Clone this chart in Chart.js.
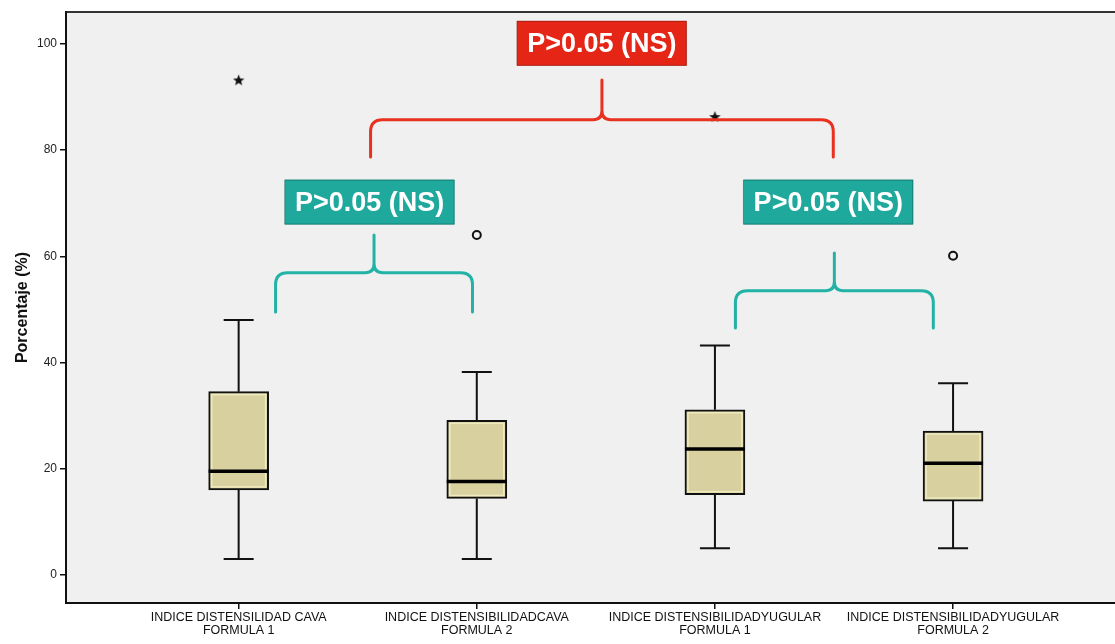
<!DOCTYPE html>
<html><head><meta charset="utf-8">
<script src="https://cdn.jsdelivr.net/npm/chart.js@4"></script>
<style>html,body{margin:0;padding:0;background:#fff;overflow:hidden}canvas{display:block}</style>
</head><body>
<canvas id="c" width="1115" height="644"></canvas>
<script>
// ---- data ----
const categories = [
  ["INDICE DISTENSILIDAD CAVA", "FORMULA 1"],
  ["INDICE DISTENSIBILIDADCAVA", "FORMULA 2"],
  ["INDICE DISTENSIBILIDADYUGULAR", "FORMULA 1"],
  ["INDICE DISTENSIBILIDADYUGULAR", "FORMULA 2"]
];
const whiskerLow  = [3, 3, 5, 5];
const q1          = [16, 14.4, 15.1, 13.9];
const median      = [19.5, 17.6, 23.7, 21.0];
const q3          = [34.5, 29.1, 31.1, 27.1];
const whiskerHigh = [48, 38.2, 43.2, 36.1];
const circleOutlierCat = [2, 4];
const circleOutlierVal = [64, 60.1];
const starOutlierCat = [1, 3];
const starOutlierVal = [93.2, 86.3];
const yTicks = [0, 20, 40, 60, 80, 100];
const yTitle = "Porcentaje (%)";
// comparison brackets (left cat, right cat, end value, bar value, peak value)
const compLabels = ["P>0.05 (NS)", "P>0.05 (NS)", "P>0.05 (NS)"];
const compLeft   = [1.155, 3.086, 1.554];
const compRight  = [1.982, 3.917, 3.497];
const compEnd    = [49.5, 46.5, 78.7];
const compBar    = [56.9, 53.5, 85.7];
const compPeak   = [64.0, 60.6, 93.2];
const compLabelX = [1.55, 3.476, 2.525];
const compLabelY = [70.2, 70.2, 100.1];
const compColors = ["#1fa89c", "#1fa89c", "#e52617"];
const compLine   = ["#22b3a6", "#22b3a6", "#e8321f"];

const FONT = "'Liberation Sans', Arial, sans-serif";

// star point image
const star = document.createElement('canvas');
star.width = 13; star.height = 13;
(function(){
  const c = star.getContext('2d');
  c.fillStyle = '#111';
  c.beginPath();
  for (let i = 0; i < 10; i++) {
    const r = i % 2 === 0 ? 6 : 2.6;
    const a = -Math.PI/2 + i * Math.PI/5;
    const px = 6.5 + r*Math.cos(a), py = 7 + r*Math.sin(a);
    i === 0 ? c.moveTo(px, py) : c.lineTo(px, py);
  }
  c.closePath(); c.fill();
})();

const bgPlugin = {
  id: 'bg',
  beforeDraw(chart) {
    const {ctx, chartArea: a} = chart;
    ctx.save();
    ctx.fillStyle = '#fff';
    ctx.fillRect(0, 0, chart.width, chart.height);
    ctx.fillStyle = '#f0f0f0';
    ctx.fillRect(a.left, a.top, a.right - a.left, a.bottom - a.top);
    ctx.strokeStyle = '#333';
    ctx.lineWidth = 2;
    ctx.beginPath(); ctx.moveTo(a.left, a.top); ctx.lineTo(a.right, a.top); ctx.stroke();
    ctx.restore();
  }
};

const whiskerPlugin = {
  id: 'whisk',
  beforeDatasetsDraw(chart) {
    const {ctx} = chart;
    const xs = chart.scales.x, ys = chart.scales.y;
    ctx.save();
    ctx.strokeStyle = '#111'; ctx.lineWidth = 2;
    for (let i = 0; i < categories.length; i++) {
      const x = xs.getPixelForValue(i + 1);
      const yl = ys.getPixelForValue(whiskerLow[i]), yh = ys.getPixelForValue(whiskerHigh[i]);
      const y1 = ys.getPixelForValue(q1[i]), y3 = ys.getPixelForValue(q3[i]);
      ctx.beginPath();
      ctx.moveTo(x, y3); ctx.lineTo(x, yh);
      ctx.moveTo(x - 15, yh); ctx.lineTo(x + 15, yh);
      ctx.moveTo(x, y1); ctx.lineTo(x, yl);
      ctx.moveTo(x - 15, yl); ctx.lineTo(x + 15, yl);
      ctx.stroke();
    }
    ctx.restore();
  },
  afterDatasetsDraw(chart) {
    const {ctx} = chart;
    const xs = chart.scales.x, ys = chart.scales.y;
    ctx.save();
    // light inner band of boxes
    ctx.strokeStyle = 'rgba(245,240,200,0.8)'; ctx.lineWidth = 1.5;
    for (let i = 0; i < categories.length; i++) {
      const x = xs.getPixelForValue(i + 1);
      const y1 = ys.getPixelForValue(q1[i]), y3 = ys.getPixelForValue(q3[i]);
      ctx.strokeRect(x - 27, y3 + 3, 54, y1 - y3 - 6);
    }
    ctx.strokeStyle = '#000'; ctx.lineWidth = 3.5;
    for (let i = 0; i < categories.length; i++) {
      const x = xs.getPixelForValue(i + 1);
      const ym = ys.getPixelForValue(median[i]);
      ctx.beginPath(); ctx.moveTo(x - 30, ym); ctx.lineTo(x + 30, ym); ctx.stroke();
    }
    // comparison braces
    for (let k = 0; k < compLabels.length; k++) {
      const L = xs.getPixelForValue(compLeft[k]), R = xs.getPixelForValue(compRight[k]);
      const C = (L + R) / 2;
      const yE = ys.getPixelForValue(compEnd[k]), yB = ys.getPixelForValue(compBar[k]), yP = ys.getPixelForValue(compPeak[k]);
      const r = 12, r2 = 9;
      ctx.strokeStyle = compLine[k]; ctx.lineWidth = 3; ctx.lineJoin = 'round'; ctx.lineCap = 'round';
      ctx.beginPath();
      ctx.moveTo(L, yE); ctx.lineTo(L, yB + r);
      ctx.quadraticCurveTo(L, yB, L + r, yB);
      ctx.lineTo(C - r2, yB);
      ctx.quadraticCurveTo(C, yB, C, yB - r2);
      ctx.lineTo(C, yP);
      ctx.moveTo(C, yB - r2);
      ctx.quadraticCurveTo(C, yB, C + r2, yB);
      ctx.lineTo(R - r, yB);
      ctx.quadraticCurveTo(R, yB, R, yB + r);
      ctx.lineTo(R, yE);
      ctx.stroke();
      // label
      const cx = xs.getPixelForValue(compLabelX[k]), cy = ys.getPixelForValue(compLabelY[k]);
      const w = 170, h = 45;
      ctx.fillStyle = compColors[k];
      ctx.fillRect(cx - w/2, cy - h/2, w, h);
      ctx.strokeStyle = 'rgba(0,0,0,0.25)'; ctx.lineWidth = 1;
      ctx.strokeRect(cx - w/2 + 0.5, cy - h/2 + 0.5, w - 1, h - 1);
      ctx.fillStyle = '#fff';
      ctx.font = "bold 27px " + FONT;
      ctx.textAlign = 'center'; ctx.textBaseline = 'middle';
      ctx.fillText(compLabels[k], cx, cy + 1);
    }
    ctx.restore();
  }
};

new Chart(document.getElementById('c'), {
  type: 'bar',
  data: {
    datasets: [
      {
        type: 'bar',
        data: categories.map((c, i) => ({x: i + 1, y: [q1[i], q3[i]]})),
        backgroundColor: '#d8d19f',
        borderColor: '#111',
        borderWidth: 2,
        borderSkipped: false,
        barThickness: 60,
        order: 2
      },
      {
        type: 'scatter',
        data: circleOutlierCat.map((c, i) => ({x: c, y: circleOutlierVal[i]})),
        pointStyle: 'circle', pointRadius: 4,
        borderColor: '#111', borderWidth: 2, backgroundColor: 'rgba(0,0,0,0)',
        order: 1
      },
      {
        type: 'scatter',
        data: starOutlierCat.map((c, i) => ({x: c, y: starOutlierVal[i]})),
        pointStyle: star, pointRadius: 6,
        order: 1
      }
    ]
  },
  options: {
    responsive: false,
    animation: false,
    devicePixelRatio: 1,
    layout: {autoPadding: false, padding: {top: 12, right: 0, left: 0, bottom: 0}},
    plugins: {legend: {display: false}, tooltip: {enabled: false}},
    scales: {
      x: {
        type: 'linear', min: 0.275, max: 4.68, offset: false,
        afterBuildTicks: s => { s.ticks = categories.map((c, i) => ({value: i + 1})); },
        afterFit: s => { s.height = 41; },
        ticks: {
          callback: v => categories[Math.round(v) - 1] || '',
          autoSkip: false, maxRotation: 0, padding: 2,
          color: '#111', font: {family: FONT, size: 12.5, lineHeight: 1.05}
        },
        grid: {offset: false, drawOnChartArea: false, drawTicks: true, tickLength: 6, color: '#111', lineWidth: 1.5},
        border: {display: true, color: '#111', width: 2}
      },
      y: {
        min: -5.3, max: 106,
        afterBuildTicks: s => { s.ticks = yTicks.map(v => ({value: v})); },
        afterFit: s => { s.width = 66; },
        ticks: {color: '#222', font: {family: FONT, size: 12}, padding: 3},
        grid: {drawOnChartArea: false, drawTicks: true, tickLength: 6, color: '#111', lineWidth: 1.5},
        border: {display: true, color: '#111', width: 2},
        title: {display: true, text: yTitle, color: '#111', font: {family: FONT, size: 16, weight: 'bold'}, padding: {top: 13, bottom: 0}}
      }
    }
  },
  plugins: [bgPlugin, whiskerPlugin]
});
</script>
</body></html>
